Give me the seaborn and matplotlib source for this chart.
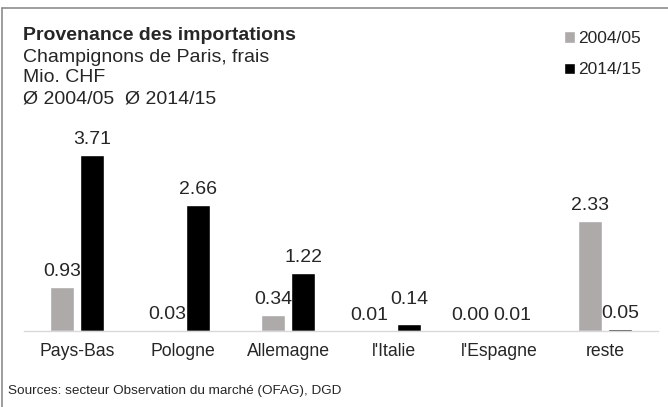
import matplotlib
matplotlib.use("Agg")
import matplotlib.pyplot as plt
from matplotlib.lines import Line2D
import seaborn as sns
import pandas as pd

# donnees
pays = ["Pays-Bas", "Pologne", "Allemagne", "l'Italie", "l'Espagne", "reste"]
moy_2004_05 = [0.93, 0.03, 0.34, 0.01, 0.00, 2.33]
moy_2014_15 = [3.71, 2.66, 1.22, 0.14, 0.01, 0.05]
periodes = ["2004/05", "2014/15"]

df = pd.DataFrame({
    "pays": pays * 2,
    "periode": [periodes[0]] * len(pays) + [periodes[1]] * len(pays),
    "valeur": moy_2004_05 + moy_2014_15,
})

sns.set_style("white")
plt.rcParams["font.family"] = ["Liberation Sans", "DejaVu Sans"]

fig = plt.figure(figsize=(6.68, 4.07), dpi=100)
ax = fig.add_axes([24 / 668, 76 / 407, 634 / 668, 300 / 407])

sns.barplot(data=df, x="pays", y="valeur", hue="periode", order=pays,
            hue_order=periodes, palette=["#AEAAAA", "#000000"],
            width=0.57, gap=0.2, saturation=1, errorbar=None, ax=ax)

labels_barres = []
for c in ax.containers:
    labels_barres.append(ax.bar_label(c, fmt="%.2f", padding=5, fontsize=14))

# petits decalages des etiquettes qui se chevauchent (comme dans l'original)
decal = {(0, 3): (-7, 0), (0, 4): (-10, 0), (1, 4): (-2, 0), (1, 3): (0, 7)}
for (i, j), (dx, dy) in decal.items():
    t = labels_barres[i][j]
    x0, y0 = t.xyann
    t.xyann = (x0 + dx, y0 + dy)

ax.set_xlim(-0.5, 5.5)
ax.set_ylim(0, 6.33)
ax.set_xlabel("")
ax.set_ylabel("")
ax.set_yticks([])
ax.tick_params(axis="x", length=0, pad=9, labelsize=12.7)
for s in ["left", "right", "top"]:
    ax.spines[s].set_visible(False)
ax.spines["bottom"].set_color("#D9D9D9")
ax.spines["bottom"].set_linewidth(1)

handles, labels = ax.get_legend_handles_labels()
ax.get_legend().remove()
fig.legend(handles, labels, loc="upper left", bbox_to_anchor=(557 / 668, 1 - 24 / 407),
           frameon=False, fontsize=12.5, handlelength=0.65, handleheight=0.65,
           handletextpad=0.15, labelspacing=0.95, borderaxespad=0)

# titres
fig.text(23 / 668, 1 - 36 / 407, "Provenance des importations", fontsize=14,
         fontweight="bold", va="center")
fig.text(23 / 668, 1 - 57 / 407, "Champignons de Paris, frais", fontsize=14, va="center")
fig.text(23 / 668, 1 - 78 / 407, "Mio. CHF", fontsize=14, va="center")
fig.text(23 / 668, 1 - 99 / 407, "Ø 2004/05  Ø 2014/15", fontsize=14, va="center")
fig.text(8 / 668, 1 - 391 / 407, "Sources: secteur Observation du marché (OFAG), DGD",
         fontsize=9.7, va="center")

# cadre
fig.add_artist(Line2D([2 / 668, 1], [1 - 8 / 407, 1 - 8 / 407], color="#8C8C8C", lw=1.2))
fig.add_artist(Line2D([2 / 668, 2 / 668], [0, 1 - 8 / 407], color="#8C8C8C", lw=1.2))

fig.savefig("out.png", dpi=100)
